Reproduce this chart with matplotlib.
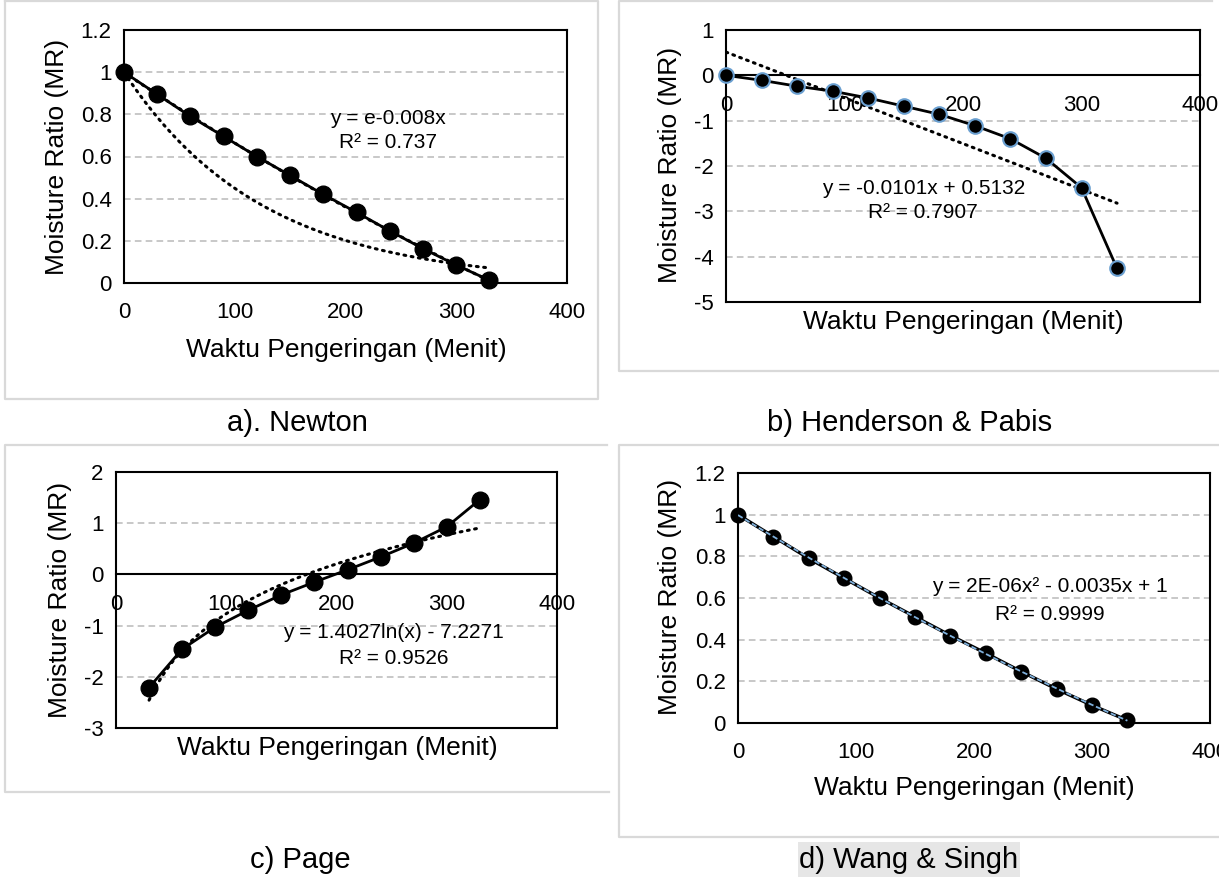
import numpy as np
import matplotlib
matplotlib.use("Agg")
import matplotlib.pyplot as plt
from matplotlib.lines import Line2D
from matplotlib.patches import Rectangle

plt.rcParams['font.family'] = ['Liberation Sans', 'DejaVu Sans']

# drying time (minutes) and moisture ratio
waktu = [0, 30, 60, 90, 120, 150, 180, 210, 240, 270, 300, 330]
mr = [1.0, 0.895, 0.79, 0.695, 0.60, 0.51, 0.42, 0.335, 0.247, 0.163, 0.085, 0.013]

# Henderson & Pabis panel (ln MR)
hp_y = [0.0, -0.11, -0.24, -0.35, -0.50, -0.68, -0.86, -1.11, -1.40, -1.83, -2.48, -4.26]

# Page panel (starts at 30 min)
page_x = [30, 60, 90, 120, 150, 180, 210, 240, 270, 300, 330]
page_y = [-2.21, -1.46, -1.03, -0.70, -0.40, -0.15, 0.09, 0.34, 0.61, 0.93, 1.46]

# trendline coefficients printed on the chart
newton_k = -0.008
hp_slope, hp_icpt = -0.0101, 0.5132
page_a, page_b = 1.4027, -7.2271

W, H = 1219, 877
fig = plt.figure(figsize=(W / 100, H / 100), dpi=100)

GRID = '#bfbfbf'
BORDER = '#d9d9d9'


def px_axes(l, t, r, b):
    return fig.add_axes([l / W, 1 - b / H, (r - l) / W, (b - t) / H])


def ftext(x, y, s, **kw):
    kw.setdefault('ha', 'center')
    kw.setdefault('va', 'center')
    return fig.text(x / W, 1 - y / H, s, **kw)


def fline(xs, ys):
    fig.add_artist(Line2D([x / W for x in xs], [1 - y / H for y in ys],
                          color=BORDER, lw=1.6))


def style(ax, ylim, yticks, zero_axis=False):
    ax.set_xlim(0, 400)
    ax.set_ylim(*ylim)
    ax.set_xticks([0, 100, 200, 300, 400])
    ax.set_yticks(yticks)
    ax.set_yticklabels([f'{t:g}' for t in yticks])
    ax.tick_params(length=0, labelsize=16)
    ax.tick_params(axis='x', pad=14)
    ax.tick_params(axis='y', pad=9)
    for s in ax.spines.values():
        s.set_linewidth(1.5)
        s.set_color('black')
    ax.yaxis.grid(True, color=GRID, linestyle=(0, (4, 2.5)), lw=1.2)
    ax.set_axisbelow(True)
    if zero_axis:
        ax.spines['bottom'].set_position(('data', 0))
        ax.plot([0, 1], [0, 0], transform=ax.transAxes, color='black',
                lw=1.5, clip_on=False, zorder=5)


dotted = dict(color='black', lw=2.2, linestyle=(0, (0.6, 1.8)),
              dash_capstyle='round')

# a) Newton
ax = px_axes(124, 30, 567, 283)
style(ax, (0, 1.2), [0, 0.2, 0.4, 0.6, 0.8, 1, 1.2])
xs = np.linspace(0, 330, 200)
ax.plot(xs, np.exp(newton_k * xs), **dotted, zorder=2)
ax.plot(xs, np.polyval(np.polyfit(waktu, mr, 2), xs), **dotted, zorder=2)
ax.plot(waktu, mr, '-o', color='black', lw=2, ms=12, zorder=3, clip_on=False)
ftext(388, 118, 'y = e-0.008x', fontsize=15)
ftext(388, 143, 'R² = 0.737', fontsize=15)

# b) Henderson & Pabis
ax = px_axes(726, 30, 1200, 302)
style(ax, (-5, 1), [-5, -4, -3, -2, -1, 0, 1], zero_axis=True)
ax.plot(xs, hp_slope * xs + hp_icpt, **dotted, zorder=2)
ax.plot(waktu, hp_y, '-o', color='black', lw=2, ms=10.5, mec='#6a9fd0',
        mew=1.5, zorder=3, clip_on=False)
ftext(924, 188, 'y = -0.0101x + 0.5132', fontsize=15)
ftext(923, 213, 'R² = 0.7907', fontsize=15)

# c) Page
ax = px_axes(116, 472, 557, 728)
style(ax, (-3, 2), [-3, -2, -1, 0, 1, 2], zero_axis=True)
xp = np.linspace(30, 330, 200)
ax.plot(xp, page_a * np.log(xp) + page_b, **dotted, zorder=2)
ax.plot(page_x, page_y, '-o', color='black', lw=2, ms=12, zorder=3)
ftext(393, 632, 'y = 1.4027ln(x) - 7.2271', fontsize=15)
ftext(394, 658, 'R² = 0.9526', fontsize=15)

# d) Wang & Singh
ax = px_axes(738, 473, 1210, 723)
style(ax, (0, 1.2), [0, 0.2, 0.4, 0.6, 0.8, 1, 1.2])
ax.plot(waktu, mr, '-o', color='black', lw=2.4, ms=10.5, zorder=3, clip_on=False)
ax.plot(xs, np.polyval(np.polyfit(waktu, mr, 2), xs), color='#7fb0dc',
        lw=1.3, linestyle=(0, (3, 1.5)), zorder=4)
ftext(1050, 587, 'y = 2E-06x² - 0.0035x + 1', fontsize=15)
ftext(1050, 615, 'R² = 0.9999', fontsize=15)

# axis titles
for x, y in [(57, 157), (670, 165), (60, 600), (670, 597)]:
    ftext(x, y, 'Moisture Ratio (MR)', fontsize=19, rotation=90)
for x, y in [(346, 350), (963, 322), (337, 748), (974, 788)]:
    ftext(x, y, 'Waktu Pengeringan (Menit)', fontsize=19)

# panel frames
fline([5, 598, 598, 5, 5], [1, 1, 399, 399, 1])
fline([1212, 619, 619, 1219], [1, 1, 371, 371])
fline([607, 5, 5, 609], [445, 445, 792, 792])
fline([1219, 619, 619, 1219], [445, 445, 837, 837])

# captions
fig.add_artist(Rectangle((798 / W, 0), 222 / W, 35 / H, transform=fig.transFigure,
                         facecolor='#e6e6e6', edgecolor='none'))
ftext(297, 423, 'a). Newton', fontsize=21)
ftext(910, 423, 'b) Henderson & Pabis', fontsize=21)
ftext(300, 860, 'c) Page', fontsize=21)
ftext(909, 860, 'd) Wang & Singh', fontsize=21)

fig.savefig('out.png', dpi=100)
